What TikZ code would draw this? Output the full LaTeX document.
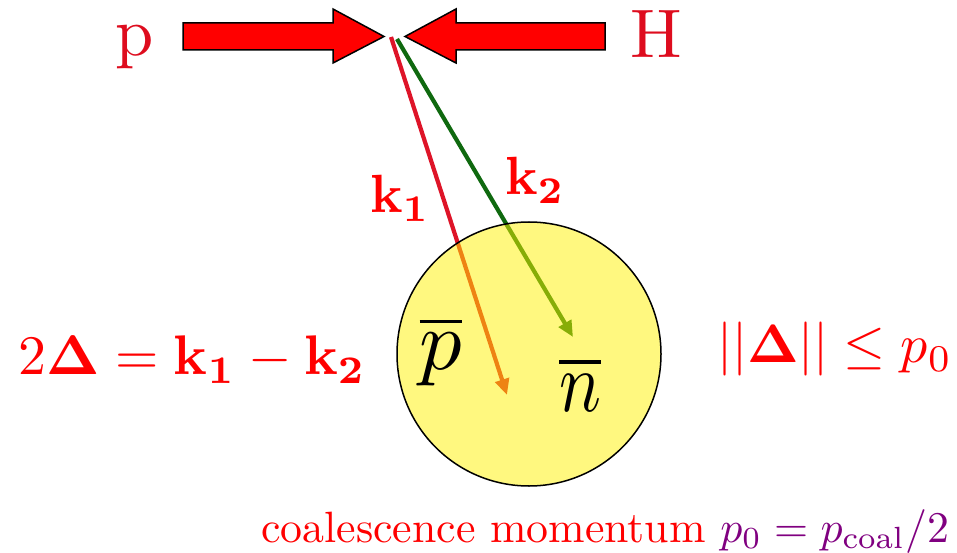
\RequirePackage{fix-cm}
\documentclass[tikz,border=0pt]{standalone}
\usepackage{amsmath}
\usetikzlibrary{arrows.meta}
\definecolor{hred}{RGB}{222,12,30}
\definecolor{lred}{RGB}{222,20,40}
\definecolor{dgreen}{RGB}{15,105,15}
\definecolor{cpurple}{RGB}{128,0,128}
\newcommand{\sizedtext}[2]{\scalebox{#1}{\fontsize{10}{12}\selectfont #2}}
\newcommand{\sizedtextxy}[3]{\scalebox{#1}[#2]{\fontsize{10}{12}\selectfont #3}}
\tikzset{
  txt/.style={inner sep=0pt, anchor=base west},
  ctxt/.style={inner sep=0pt, anchor=base},
  fat/.style={fill=red, draw=black, line width=1.5bp, line join=miter},
  mom/.style={line width=4.2bp, -{Triangle[length=16bp,width=14bp]}},
}
\begin{document}
\begin{tikzpicture}[x=1bp,y=-1bp]
\useasboundingbox (0,0) rectangle (957,553);
% beam labels
\node[ctxt, text=hred] (pl) at (135,56) {\sizedtext{6.9}{p}};
\node[ctxt, text=hred] (hl) at (656,58) {\sizedtext{6.9}{H}};
% fat arrows
\draw[fat] (183,23) -- (333,23) -- (333,9) -- (384,36.5) -- (333,63) -- (333,50) -- (183,50) -- cycle;
\draw[fat] (605,23) -- (456,23) -- (456,9) -- (405,36.5) -- (456,63) -- (456,50) -- (605,50) -- cycle;
% momenta
\coordinate (v1) at (391,37);
\coordinate (v2) at (397,39);
\coordinate (e1) at (507,395);
\coordinate (e2) at (573,337);
\draw[mom, lred] (v1) -- (e1);
\draw[mom, dgreen] (v2) -- (e2);
% coalescence sphere
\node[circle, minimum size=264bp, inner sep=0pt, fill=yellow, fill opacity=0.5, draw=black, draw opacity=1, line width=1.5bp] (ball) at (529,354) {};
\node[ctxt] (pbar) at (441,370) {\sizedtext{8.5}{$\overline{p}$}};
\node[ctxt] (nbar) at (580,411) {\sizedtextxy{7.0}{8.6}{$\overline{n}$}};
% labels
\node[txt, text=red] (k1) at (370,213) {\sizedtext{5.4}{$\mathbf{k_1}$}};
\node[txt, text=red] (k2) at (505,195) {\sizedtext{5.4}{$\mathbf{k_2}$}};
\node[txt, text=red] (eqd) at (18,375) {\sizedtext{5.6}{$2\boldsymbol{\Delta}=\mathbf{k_1}-\mathbf{k_2}$}};
\node[txt, text=red] (ineq) at (717,363) {\sizedtext{5.42}{$||\boldsymbol{\Delta}||\leq p_0$}};
\node[txt, text=red] (coal) at (261,542) {\sizedtext{4.4}{coalescence momentum \textcolor{cpurple}{$p_0=p_{\text{coal}}/2$}}};
\end{tikzpicture}
\end{document}
